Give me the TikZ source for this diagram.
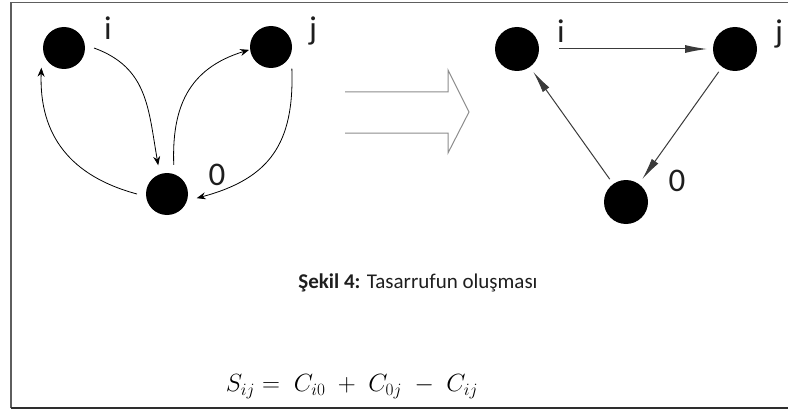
\documentclass[tikz,border=0pt]{standalone}
\usepackage{fontspec}
\setmainfont{Carlito}
\usetikzlibrary{arrows.meta}
\definecolor{framegray}{HTML}{5E5E5E}
\definecolor{framedark}{HTML}{2E2E2E}
\definecolor{edgegray}{HTML}{3A3A3A}
\definecolor{hollowgray}{HTML}{8C8C8C}
\definecolor{textdark}{HTML}{1E1E1E}

\begin{document}
\begin{tikzpicture}[x=1pt,y=1pt,
    dot/.style    = {circle,fill=black,minimum size=42pt,inner sep=0pt,outer sep=9pt},
    bigdot/.style = {dot,minimum size=44pt,outer sep=6pt},
    lbl/.style    = {anchor=base,inner sep=0pt,text=textdark,
                     font=\fontsize{33}{36}\selectfont},
    curv/.style   = {-{Stealth[length=9pt,width=7pt]},line width=0.8pt},
    flat/.style   = {-{Latex[length=22pt,width=8pt]},line width=1pt,edgegray},
    hollow/.style = {hollowgray,line width=1pt,line join=miter},
  ]
  \useasboundingbox (0,0) rectangle (788,-412);

  % cadre
  \draw[framegray,line width=1.8pt] (788,-2.5) -- (11,-2.5) -- (11,-408);
  \draw[framedark,line width=1.8pt] (11,-408) -- (788,-408);

  % graphe de gauche
  \node[dot] (i) at (64,-48)  {};
  \node[dot] (j) at (271,-47) {};
  \node[dot] (o) at (167,-194) {};
  \node[lbl] (li) at (108,-40)  {i};
  \node[lbl] (lj) at (313,-40)  {j};
  \node[lbl] (lo) at (217,-185) {0};

  \draw[curv] (i.0)   to[out=-20,in=100,looseness=1.1] (o.107);
  \draw[curv,shorten >=-8pt] (o.77) to[out=92,in=197,looseness=1.1] (j.190);
  \draw[curv] (j.-46) to[out=-88,in=15,looseness=1.2] (o.-8);
  \draw[curv] (o.180) to[out=165,in=-92,looseness=1.1] (i.-139);

  % grosse fleche creuse
  \draw[hollow] (345,-92) -| (448,-70) -- (469,-112) -- (448,-153) |- (345,-133);

  % graphe de droite
  \node[bigdot] (ri) at (517,-49)  {};
  \node[bigdot] (rj) at (735,-49)  {};
  \node[bigdot] (ro) at (626,-202) {};
  \node[lbl] (lri) at (561,-43)  {i};
  \node[lbl] (lrj) at (779,-43)  {j};
  \node[lbl] (lro) at (677,-191) {0};

  \draw[flat,shorten <=14pt] (ri) -- (rj);
  \draw[flat] (rj) -- (ro);
  \draw[flat] (ro) -- (ri);

  % legende et formule
  \node[text=textdark,font=\fontsize{21}{25}\selectfont] (cap) at (418,-283)
       {\textbf{Şekil 4:} Tasarrufun oluşması};
  \node[text=black,font=\fontsize{23}{27}\selectfont] (sij) at (352,-387)
       {$S_{ij} =\; C_{i0} \;+\; C_{0j} \;-\; C_{ij}$};

\end{tikzpicture}
\end{document}
